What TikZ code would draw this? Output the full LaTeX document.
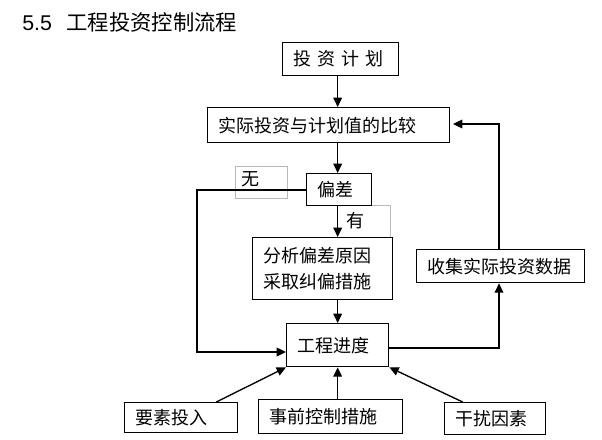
\documentclass[tikz,border=0pt]{standalone}
\usepackage{fontspec}
\setmainfont{Noto Sans CJK SC}
\newfontfamily\latinfont{Liberation Sans}
\usetikzlibrary{arrows.meta}

\tikzset{
  box/.style={draw,line width=1pt,inner xsep=8pt,inner ysep=0pt,align=left,anchor=north west,
    font=\fontsize{13.5}{20}\selectfont},
  tagbox/.style={draw=gray!55,line width=0.5pt},
  tagtext/.style={inner sep=0pt,font=\fontsize{13.5}{16}\selectfont},
  flow/.style={line width=1pt,-{Triangle[length=7pt,width=6.5pt]}},
  link/.style={line width=1pt}
}

\begin{document}
\begin{tikzpicture}[x=0.75pt,y=-0.75pt]
  \useasboundingbox (0,0) rectangle (602,439);

  % Title
  \node[anchor=west,inner sep=0pt,font=\fontsize{16}{19}\selectfont] (title) at (22,22)
    {{\latinfont 5.5}\hspace{11pt}工程投资控制流程};

  % Gray label frames (behind)
  \node[tagbox,anchor=north west,minimum width=39pt,minimum height=24pt] (nobox) at (235,166) {};
  \draw[tagbox] (371,205) -- (390,205) -- (390,237);

  % Main boxes
  \node[box,text width=71pt,minimum height=24.75pt] (plan) at (282,42)
    {投\hspace{4.5pt}资\hspace{4.5pt}计\hspace{4.5pt}划};
  \node[box,text width=165.5pt,minimum height=26.25pt] (compare) at (207,107)
    {实际投资与计划值的比较};
  \node[box,text width=32.75pt,minimum height=24pt] (dev) at (306,173) {偏差};
  \node[box,text width=89pt,minimum height=46.5pt] (analyze) at (252,237)
    {分析偏差原因\\采取纠偏措施};
  \node[box,text width=60.5pt,minimum height=32.25pt] (progress) at (286,323) {工程进度};
  \node[box,text width=110pt,minimum height=24.75pt] (collect) at (416,249)
    {收集实际投资数据};

  % Bottom inputs
  \node[box,text width=68.75pt,minimum height=22.5pt] (input) at (124,402) {要素投入};
  \node[box,text width=92pt,minimum height=25.5pt] (pre) at (258,399) {事前控制措施};
  \node[box,text width=59.75pt,minimum height=24pt] (dist) at (444,402) {干扰因素};

  % Branch labels
  \node[tagtext] (nolabel) at (250,179) {无};
  \node[tagtext] (yeslabel) at (355.5,220.5) {有};

  % Corners of the loops
  \coordinate (lefttop) at (197,190);
  \coordinate (leftbot) at (197,352);
  \coordinate (rightbot) at (499,348);
  \coordinate (righttop) at (499,124);

  % Main chain
  \draw[flow] (progress.north |- plan.south) -- (progress.north |- compare.north);
  \draw[flow] (progress.north |- compare.south) -- (progress.north |- dev.north);
  \draw[flow] (progress.north |- dev.south) -- (progress.north |- analyze.north);
  \draw[flow] (progress.north |- analyze.south) -- (progress.north);

  % No deviation
  \draw[flow] (dev.west |- lefttop) -- (lefttop) -- (leftbot) -- (leftbot -| progress.west);

  % Feedback loop
  \draw[flow] (rightbot -| progress.east) -- (rightbot) -- (rightbot |- collect.south);
  \draw[flow,shorten >=2pt] (righttop |- collect.north) -- (righttop) -- (righttop -| compare.east);

  % Inputs to progress
  \draw[flow] ([xshift=-16.5pt]input.north east) -- (progress.south west);
  \draw[flow] (progress.south |- pre.north) -- (progress.south);
  \draw[flow] ([xshift=14pt]dist.north west) -- (progress.south east);
\end{tikzpicture}
\end{document}
